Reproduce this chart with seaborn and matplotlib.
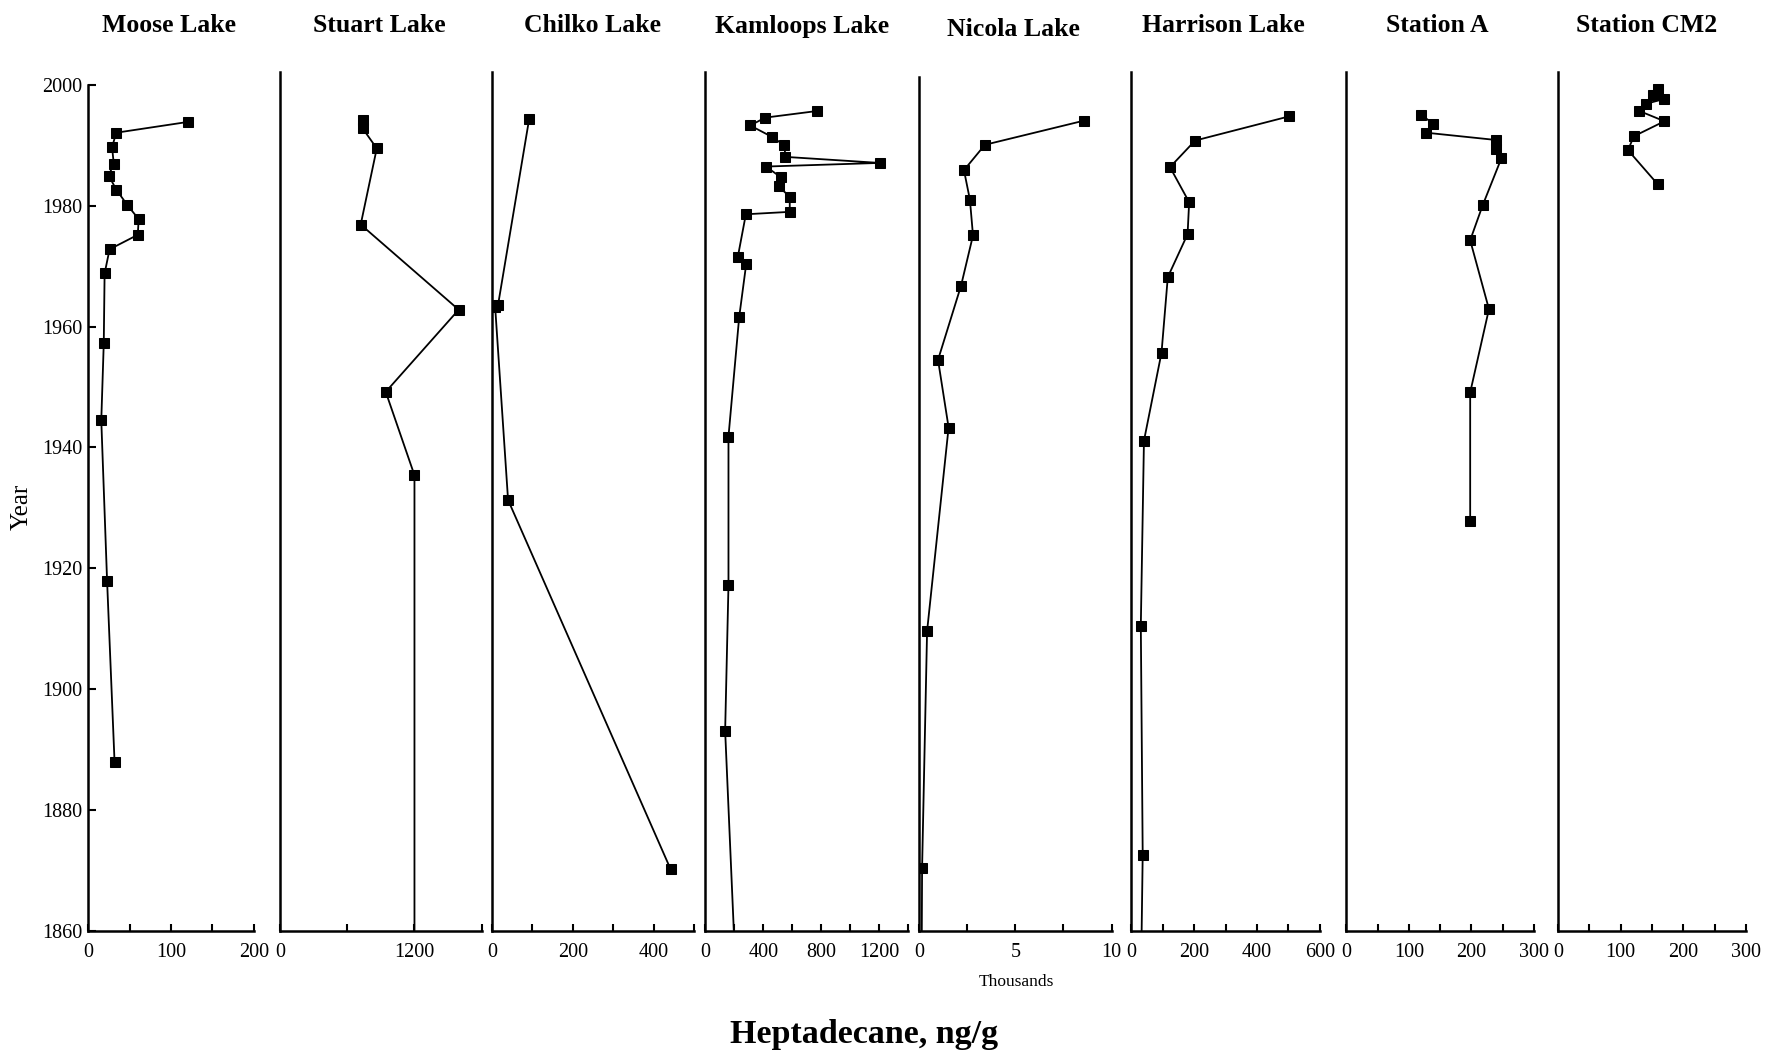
import matplotlib
matplotlib.use("Agg")
import matplotlib.pyplot as plt
import seaborn as sns
import pandas as pd
from matplotlib.ticker import MultipleLocator, FuncFormatter

# Heptadecane profiles in sediment cores (ng/g dry weight) against deposition year
moose_year = [1993.9, 1992.1, 1989.7, 1987.0, 1985.0, 1982.7, 1980.2, 1977.8, 1975.2,
              1972.8, 1968.8, 1957.3, 1944.5, 1917.9, 1887.9]
moose_val = [121, 34, 29, 31, 25, 34, 47, 61, 60, 26, 20, 19, 16, 23, 32]

stuart_year = [1994.2, 1992.8, 1989.5, 1976.9, 1962.8, 1949.2, 1935.4, 1850.0]
stuart_val = [739, 739, 864, 721, 1594, 944, 1200, 1200]

chilko_year = [1994.3, 1963.5, 1963.3, 1931.3, 1870.2]
chilko_val = [92, 15, 8, 40, 442]

kamloops_year = [1995.7, 1994.6, 1993.3, 1991.4, 1990.0, 1988.1, 1987.1, 1986.5, 1984.7,
                 1983.2, 1981.5, 1979.0, 1978.6, 1971.6, 1970.3, 1961.6, 1941.8, 1917.2,
                 1893.1, 1850.0]
kamloops_val = [773, 414, 310, 461, 546, 553, 1203, 419, 523, 507, 583, 583, 280, 225,
                282, 234, 160, 160, 137, 215]

nicola_year = [1994.1, 1990.1, 1985.9, 1981.0, 1975.1, 1966.8, 1954.5, 1943.3, 1909.6,
               1870.4, 1850.0]
nicola_val = [8570, 3410, 2320, 2630, 2790, 2170, 970, 1520, 400, 140, 110]

harrison_year = [1994.8, 1990.8, 1986.4, 1980.6, 1975.3, 1968.2, 1955.7, 1941.1, 1910.5,
                 1872.6, 1850.0]
harrison_val = [502, 203, 123, 184, 179, 116, 96, 40, 30, 36, 30]

station_a_year = [1995.1, 1993.6, 1992.1, 1990.9, 1989.4, 1987.9, 1980.1, 1974.3, 1962.9,
                  1949.1, 1927.8]
station_a_val = [119, 139, 128, 239, 239, 248, 218, 198, 228, 198, 198]

cm2_year = [1999.3, 1998.4, 1997.7, 1996.9, 1995.7, 1994.0, 1991.5, 1989.2, 1983.6]
cm2_val = [159, 152, 170, 141, 130, 170, 121, 112, 159]

titles = ["Moose Lake", "Stuart Lake", "Chilko Lake", "Kamloops Lake", "Nicola Lake",
          "Harrison Lake", "Station A", "Station CM2"]
x_limits = [200, 1800, 500, 1400, 10000, 600, 300, 300]
x_steps = [50, 600, 100, 200, 2500, 100, 50, 50]

profiles = [(moose_val, moose_year), (stuart_val, stuart_year), (chilko_val, chilko_year),
            (kamloops_val, kamloops_year), (nicola_val, nicola_year),
            (harrison_val, harrison_year), (station_a_val, station_a_year),
            (cm2_val, cm2_year)]

sns.set_style("ticks")
plt.rcParams["font.family"] = ["Liberation Serif", "DejaVu Serif"]
plt.rcParams["text.color"] = "black"
plt.rcParams["axes.labelcolor"] = "black"
plt.rcParams["xtick.color"] = "black"
plt.rcParams["ytick.color"] = "black"

W, H = 1768, 1052
fig = plt.figure(figsize=(W / 100, H / 100), dpi=100)

# panel frames in pixels: left, right, top of axis line
frames = [(88, 254, 85), (279.8, 481.8, 71.8), (491.9, 694, 71.8), (705.3, 908.1, 71.8),
          (919.4, 1111.5, 76.7), (1131.4, 1319.7, 71.8), (1346.3, 1534, 71.8),
          (1557.8, 1746, 71.8)]
y_bottom = 930.7
px_per_year = (y_bottom - 85) / 140.0

title_pos = [(169, 26), (379, 26), (592, 26), (802, 26), (1013, 30), (1223, 26),
             (1437, 26), (1647, 26)]


def make_formatter(step, limit, thousands=False):
    def fmt(v, pos):
        if v < -1e-9 or v > limit + 1e-9:
            return ""
        k = round(v / step)
        if k % 2 != 0:
            return ""
        if thousands:
            return f"{v / 1000:g}"
        return f"{v:g}"
    return FuncFormatter(fmt)


for i, ((vals, years), (left, right, top)) in enumerate(zip(profiles, frames)):
    top_year = 2000 + (85 - top) / px_per_year
    ax = fig.add_axes([left / W, (H - y_bottom) / H, (right - left) / W,
                       (y_bottom - top) / H])
    df = pd.DataFrame({"value": vals, "year": years})
    sns.lineplot(data=df, x="value", y="year", sort=False, estimator=None, ax=ax,
                 color="black", linewidth=1.3, marker="s", markersize=6.5,
                 markeredgecolor="black", markerfacecolor="black")
    ax.set_xlim(0, x_limits[i])
    ax.set_ylim(1860, top_year)
    ax.xaxis.set_major_locator(MultipleLocator(x_steps[i]))
    ax.xaxis.set_major_formatter(make_formatter(x_steps[i], x_limits[i], thousands=(i == 4)))
    ax.set_xlabel("")
    ax.set_ylabel("")
    for side in ["top", "right"]:
        ax.spines[side].set_visible(False)
    for side in ["left", "bottom"]:
        ax.spines[side].set_linewidth(1.8)
        ax.spines[side].set_color("black")
    ax.tick_params(axis="x", direction="in", length=5, width=1.5, labelsize=14.5, pad=9,
                   colors="black")
    if i == 0:
        ax.yaxis.set_major_locator(MultipleLocator(20))
        ax.tick_params(axis="y", direction="in", length=6, width=1.5, labelsize=14.5, pad=4,
                       colors="black")
    else:
        ax.set_yticks([])
    fig.text(title_pos[i][0] / W, 1 - title_pos[i][1] / H, titles[i], ha="center",
             va="center", fontsize=18.5, fontweight="bold", color="black")

fig.text(22 / W, 1 - 507 / H, "Year", rotation=90, ha="center", va="center", fontsize=18,
         color="black")
fig.text(1016 / W, 1 - 982 / H, "Thousands", ha="center", va="center", fontsize=12.5,
         color="black")
fig.text(864 / W, 1 - 1035 / H, "Heptadecane, ng/g", ha="center", va="center",
         fontsize=24.5, fontweight="bold", color="black")

fig.savefig("out.png", dpi=100, facecolor="white")
